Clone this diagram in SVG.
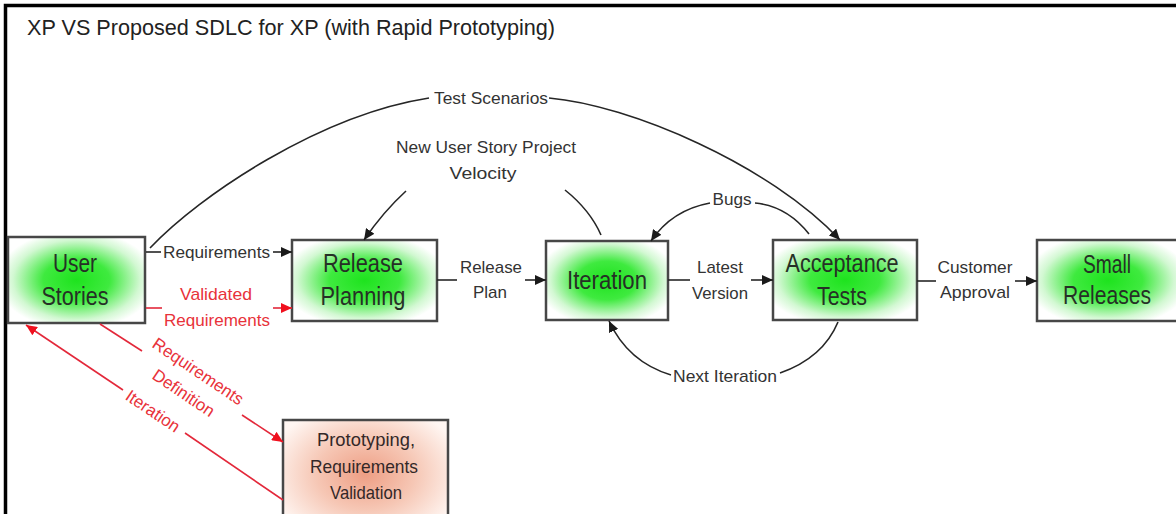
<svg xmlns="http://www.w3.org/2000/svg" width="1176" height="514" viewBox="0 0 1176 514">
  <style>
    .box { stroke: #474747; stroke-width: 2.5; }
    .green { fill: url(#greenGlow); }
    .node-label { font-family: "Liberation Sans", Arial, sans-serif; font-size: 25px; fill: #263026; text-anchor: middle; }
    .proto-label { font-family: "Liberation Sans", Arial, sans-serif; font-size: 19px; fill: #332828; text-anchor: middle; }
    .lbl { font-family: "Liberation Sans", Arial, sans-serif; font-size: 17px; fill: #333; text-anchor: middle; }
    .lbl-red { font-family: "Liberation Sans", Arial, sans-serif; font-size: 17px; fill: #e8323a; text-anchor: middle; }
    .conn { fill: none; stroke: #262626; stroke-width: 1.6; }
    .conn-red { fill: none; stroke: #e3283a; stroke-width: 1.6; }
    .title { font-family: "Liberation Sans", Arial, sans-serif; font-size: 21.5px; fill: #222; }
  </style>
  <defs>
    <radialGradient id="greenGlow" cx="0.5" cy="0.5" r="0.58">
      <stop offset="0" stop-color="#1ee31e"/>
      <stop offset="0.42" stop-color="#3fea3f"/>
      <stop offset="0.8" stop-color="#d2f8d2"/>
      <stop offset="1" stop-color="#ffffff"/>
    </radialGradient>
    <radialGradient id="salmonGlow" cx="0.5" cy="0.45" r="0.6">
      <stop offset="0" stop-color="#ee9e84"/>
      <stop offset="0.5" stop-color="#f6c7b5"/>
      <stop offset="1" stop-color="#fff6f2"/>
    </radialGradient>
    <marker id="arrow" markerUnits="userSpaceOnUse" markerWidth="11" markerHeight="10" refX="11" refY="5" orient="auto">
      <path d="M0,0 L11,5 L0,10 z" fill="#1a1a1a"/>
    </marker>
    <marker id="arrowRed" markerUnits="userSpaceOnUse" markerWidth="11" markerHeight="10" refX="11" refY="5" orient="auto">
      <path d="M0,0 L11,5 L0,10 z" fill="#f0101e"/>
    </marker>
  </defs>

  <rect width="1176" height="514" fill="#ffffff"/>

  <!-- frame -->
  <path d="M5.5,514 V5.5 H1176" fill="none" stroke="#000" stroke-width="3.5"/>
  <text class="title" x="27" y="35" textLength="528" lengthAdjust="spacingAndGlyphs">XP VS Proposed SDLC for XP (with Rapid Prototyping)</text>

  <!-- nodes -->
  <g id="user-stories">
    <rect class="box green" x="8" y="237" width="137" height="86"/>
    <text class="node-label" x="75" y="272" textLength="44" lengthAdjust="spacingAndGlyphs">User</text>
    <text class="node-label" x="75" y="305" textLength="67" lengthAdjust="spacingAndGlyphs">Stories</text>
  </g>
  <g id="release-planning">
    <rect class="box green" x="292" y="240" width="145" height="81"/>
    <text class="node-label" x="363" y="272" textLength="80" lengthAdjust="spacingAndGlyphs">Release</text>
    <text class="node-label" x="363" y="305" textLength="85" lengthAdjust="spacingAndGlyphs">Planning</text>
  </g>
  <g id="iteration">
    <rect class="box green" x="546" y="241" width="122" height="79"/>
    <text class="node-label" x="607" y="289" textLength="80" lengthAdjust="spacingAndGlyphs">Iteration</text>
  </g>
  <g id="acceptance-tests">
    <rect class="box green" x="773" y="240" width="144" height="80"/>
    <text class="node-label" x="842" y="272" textLength="113" lengthAdjust="spacingAndGlyphs">Acceptance</text>
    <text class="node-label" x="842" y="305" textLength="50" lengthAdjust="spacingAndGlyphs">Tests</text>
  </g>
  <g id="small-releases">
    <rect class="box green" x="1037" y="240" width="142" height="81"/>
    <text class="node-label" x="1107" y="273" textLength="48" lengthAdjust="spacingAndGlyphs">Small</text>
    <text class="node-label" x="1107" y="304" textLength="88" lengthAdjust="spacingAndGlyphs">Releases</text>
  </g>
  <g id="prototyping">
    <rect class="box" x="283" y="420" width="165" height="120" fill="url(#salmonGlow)"/>
    <text class="proto-label" x="366" y="446" textLength="98" lengthAdjust="spacingAndGlyphs">Prototyping,</text>
    <text class="proto-label" x="364" y="473" textLength="108" lengthAdjust="spacingAndGlyphs">Requirements</text>
    <text class="proto-label" x="366" y="499" textLength="72" lengthAdjust="spacingAndGlyphs">Validation</text>
  </g>

  <!-- connectors -->
  <g id="connectors">
    <!-- User Stories to Release Planning -->
    <path class="conn" d="M146,252 H161"/>
    <path class="conn" d="M273,252 H292" marker-end="url(#arrow)"/>
    <text class="lbl" x="216.5" y="258" textLength="107" lengthAdjust="spacingAndGlyphs">Requirements</text>

    <path class="conn-red" d="M146,308 H162"/>
    <path class="conn-red" d="M273,308 H292" marker-end="url(#arrowRed)"/>
    <text class="lbl-red" x="216" y="300" textLength="72" lengthAdjust="spacingAndGlyphs">Validated</text>
    <text class="lbl-red" x="217" y="326" textLength="106" lengthAdjust="spacingAndGlyphs">Requirements</text>

    <!-- Release Planning to Iteration -->
    <path class="conn" d="M437,280 H457"/>
    <path class="conn" d="M525,280 H546" marker-end="url(#arrow)"/>
    <text class="lbl" x="491" y="273" textLength="62" lengthAdjust="spacingAndGlyphs">Release</text>
    <text class="lbl" x="490" y="298" textLength="34" lengthAdjust="spacingAndGlyphs">Plan</text>

    <!-- Iteration to Acceptance Tests -->
    <path class="conn" d="M668,280 H690"/>
    <path class="conn" d="M751,280 H773" marker-end="url(#arrow)"/>
    <text class="lbl" x="720" y="273" textLength="46" lengthAdjust="spacingAndGlyphs">Latest</text>
    <text class="lbl" x="720" y="299" textLength="56" lengthAdjust="spacingAndGlyphs">Version</text>

    <!-- Acceptance Tests to Small Releases -->
    <path class="conn" d="M917,281 H936"/>
    <path class="conn" d="M1015,281 H1037" marker-end="url(#arrow)"/>
    <text class="lbl" x="975" y="273" textLength="75" lengthAdjust="spacingAndGlyphs">Customer</text>
    <text class="lbl" x="975" y="298" textLength="70" lengthAdjust="spacingAndGlyphs">Approval</text>

    <!-- Test Scenarios arc -->
    <path class="conn" d="M150,248 C200,195 320,115 429,98"/>
    <path class="conn" d="M549,98 C630,105 770,165 840,240" marker-end="url(#arrow)"/>
    <text class="lbl" x="491" y="104" textLength="114" lengthAdjust="spacingAndGlyphs">Test Scenarios</text>

    <!-- Iteration feeds back to Release Planning -->
    <path class="conn" d="M565,190 Q590,210 601,235"/>
    <path class="conn" d="M406,191 Q383,212 364,240" marker-end="url(#arrow)"/>
    <text class="lbl" x="486" y="153" textLength="180" lengthAdjust="spacingAndGlyphs">New User Story Project</text>
    <text class="lbl" x="483" y="179" textLength="67" lengthAdjust="spacingAndGlyphs">Velocity</text>

    <!-- Bugs -->
    <path class="conn" d="M809,234 Q787,206 755,203"/>
    <path class="conn" d="M710,203 Q672,210 651,241" marker-end="url(#arrow)"/>
    <text class="lbl" x="732" y="205" textLength="39" lengthAdjust="spacingAndGlyphs">Bugs</text>

    <!-- Next Iteration -->
    <path class="conn" d="M838,322 Q823,358 780,373"/>
    <path class="conn" d="M671,375 Q628,362 609,321" marker-end="url(#arrow)"/>
    <text class="lbl" x="725" y="382" textLength="104" lengthAdjust="spacingAndGlyphs">Next Iteration</text>

    <!-- Requirements definition to prototyping -->
    <path class="conn-red" d="M100,324 L142,351"/>
    <path class="conn-red" d="M242,415 L283,442" marker-end="url(#arrowRed)"/>
    <g transform="translate(191,382) rotate(34)">
      <text class="lbl-red" x="0" y="-7">Requirements</text>
      <text class="lbl-red" x="0" y="19">Definition</text>
    </g>

    <!-- Iteration back to User Stories -->
    <path class="conn-red" d="M283,500 L185,433"/>
    <path class="conn-red" d="M123,390 L26,325" marker-end="url(#arrowRed)"/>
    <text class="lbl-red" transform="translate(153,411) rotate(34)" x="0" y="6">Iteration</text>
  </g>
</svg>
